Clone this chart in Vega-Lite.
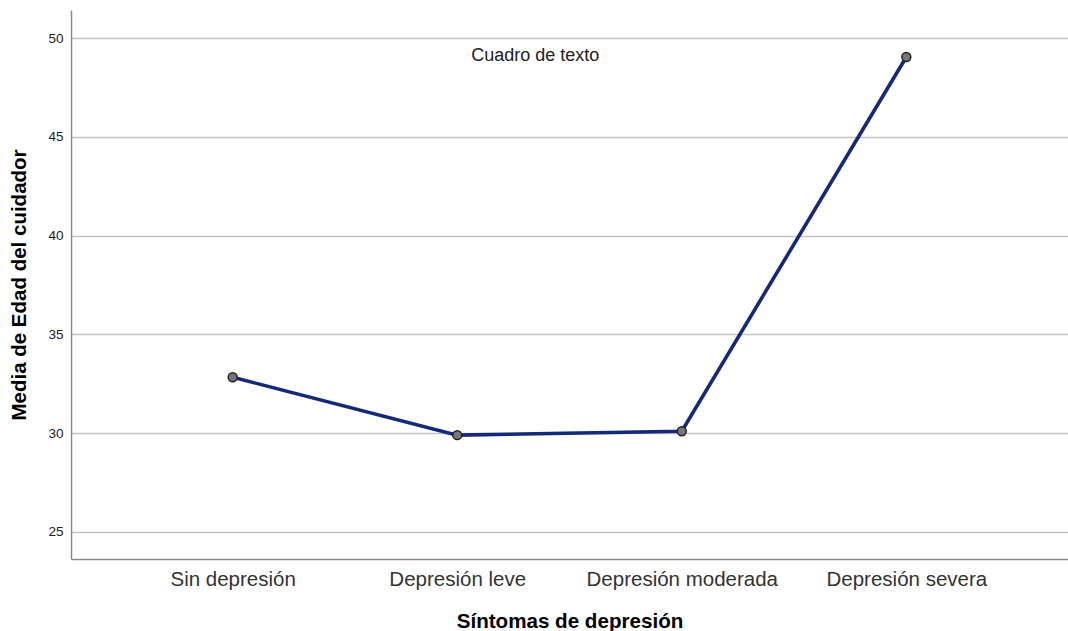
{
  "$schema": "https://vega.github.io/schema/vega-lite/v6.json",
  "autosize": {"type": "none"},
  "padding": {"left": 71, "top": 10, "right": 0, "bottom": 72},
  "width": 997,
  "height": 549,
  "background": "white",
  "config": {
    "font": "Liberation Sans",
    "view": {"stroke": null}
  },
  "datasets": {
    "main": [
      {"sintomas": "Sin depresión", "media": 32.83},
      {"sintomas": "Depresión leve", "media": 29.9},
      {"sintomas": "Depresión moderada", "media": 30.1},
      {"sintomas": "Depresión severa", "media": 49.04}
    ],
    "note": [
      {"sintomas": "Depresión leve", "media": 49.09, "texto": "Cuadro de texto"}
    ]
  },
  "encoding": {
    "x": {
      "field": "sintomas",
      "type": "nominal",
      "sort": null,
      "scale": {"type": "point", "padding": 0.72},
      "axis": {
        "title": "Síntomas de depresión",
        "titleFontSize": 20.6,
        "titleFontWeight": "bold",
        "titleColor": "#000000",
        "titlePadding": 22,
        "labelFontSize": 20.5,
        "labelColor": "#333333",
        "labelPadding": 10,
        "labelLimit": 400,
        "labelAngle": 0,
        "ticks": false,
        "domainColor": "#888888",
        "domainWidth": 1.5,
        "grid": false
      }
    },
    "y": {
      "field": "media",
      "type": "quantitative",
      "scale": {"domain": [23.63, 51.42], "nice": false, "zero": false},
      "axis": {
        "title": "Media de Edad del cuidador",
        "titleFontSize": 20.5,
        "titleFontWeight": "bold",
        "titleColor": "#000000",
        "titlePadding": 18,
        "values": [25, 30, 35, 40, 45, 50],
        "labelFontSize": 13.5,
        "labelColor": "#222222",
        "labelPadding": 8,
        "ticks": false,
        "domainColor": "#888888",
        "domainWidth": 1.5,
        "grid": true,
        "gridColor": "#c4c4c4",
        "gridWidth": 1.3
      }
    }
  },
  "layer": [
    {
      "data": {"name": "main"},
      "mark": {"type": "line", "color": "#14297a", "strokeWidth": 3.6}
    },
    {
      "data": {"name": "main"},
      "mark": {"type": "point", "filled": true, "fill": "#777777", "stroke": "#222222", "strokeWidth": 1.5, "size": 80, "opacity": 1}
    },
    {
      "data": {"name": "note"},
      "mark": {"type": "text", "fontSize": 18, "color": "#222222", "dx": 78, "align": "center", "baseline": "middle"},
      "encoding": {"text": {"field": "texto"}}
    }
  ]
}
